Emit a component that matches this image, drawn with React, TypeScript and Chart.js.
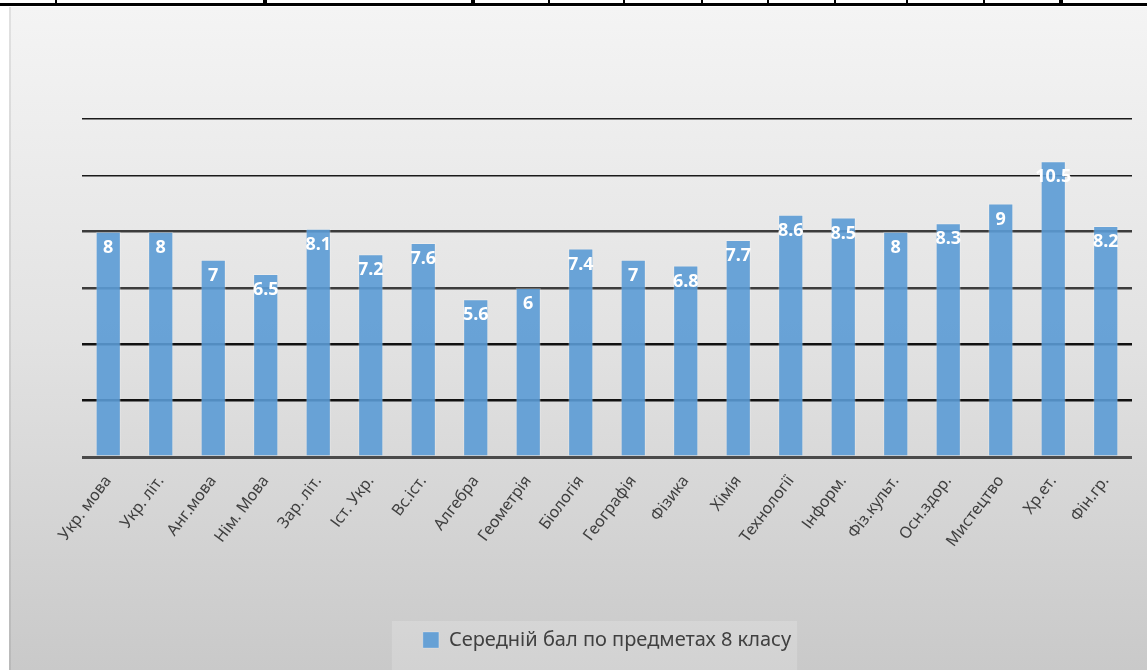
import React, { useEffect, useRef } from "react";
import { Chart, registerables } from "chart.js";

Chart.register(...registerables);

const categories: string[] = [
  "Укр. мова", "Укр. літ.", "Анг.мова", "Нім. Мова", "Зар. літ.", "Іст. Укр.", "Вс.іст.",
  "Алгебра", "Геометрія", "Біологія", "Географія", "Фізика", "Хімія", "Технології",
  "Інформ.", "Фіз.культ.", "Осн.здор.", "Мистецтво", "Хр.ет.", "Фін.гр.",
];
const averages: number[] = [8, 8, 7, 6.5, 8.1, 7.2, 7.6, 5.6, 6, 7.4, 7, 6.8, 7.7, 8.6, 8.5, 8, 8.3, 9, 10.5, 8.2];
const seriesName = "Середній бал по предметах 8 класу";
const yTicks: number[] = [0, 2, 4, 6, 8, 10, 12];

const W = 1147;
const H = 670;

const backgroundPlugin = {
  id: "bgDecor",
  beforeDraw(chart: any) {
    const ctx = chart.ctx;
    ctx.save();
    ctx.fillStyle = "#ffffff";
    ctx.fillRect(0, 0, W, H);
    const g = ctx.createLinearGradient(0, 7, 0, H);
    g.addColorStop(0, "#f4f4f4");
    g.addColorStop(0.5, "#e2e2e2");
    g.addColorStop(1, "#c9c9c9");
    ctx.fillStyle = g;
    ctx.fillRect(9, 7, W - 9, H - 7);
    ctx.fillStyle = "rgba(0,0,0,0.08)";
    ctx.fillRect(9, 7, 2, H - 7);
    // table border at the top
    ctx.fillStyle = "#000000";
    ctx.fillRect(0, 3, W, 3);
    const thin = [56, 549, 624, 702, 768, 835, 907, 984];
    const thick = [265, 473, 1061];
    thin.forEach((x) => ctx.fillRect(x - 1, 0, 2, 6));
    thick.forEach((x) => ctx.fillRect(x - 2, 0, 4, 6));
    // legend box
    const lg = chart.legend;
    if (lg && lg.legendHitBoxes && lg.legendHitBoxes.length) {
      const hb = lg.legendHitBoxes[0];
      const x0 = hb.left - 31;
      const x1 = hb.left + hb.width + 6;
      const y0 = hb.top - 9;
      ctx.fillStyle = "rgba(255,255,255,0.18)";
      ctx.fillRect(x0, y0, x1 - x0, H - y0);
    }
    ctx.restore();
  },
};

const valueLabelPlugin = {
  id: "valueLabels",
  afterDatasetsDraw(chart: any) {
    const ctx = chart.ctx;
    const meta = chart.getDatasetMeta(0);
    ctx.save();
    ctx.fillStyle = "#ffffff";
    ctx.font = "bold 18px 'Noto Sans', 'DejaVu Sans', sans-serif";
    ctx.textAlign = "center";
    ctx.textBaseline = "middle";
    meta.data.forEach((bar: any, i: number) => {
      const v = chart.data.datasets[0].data[i];
      ctx.fillText(String(v), bar.x, bar.y + 16);
    });
    ctx.restore();
  },
};

export default function App() {
  const ref = useRef<HTMLCanvasElement | null>(null);

  useEffect(() => {
    document.body.style.margin = "0";
    const canvas = ref.current;
    if (!canvas) return;
    const chart = new Chart(canvas, {
      type: "bar",
      data: {
        labels: categories,
        datasets: [
          {
            label: seriesName,
            data: averages,
            backgroundColor: "rgba(91,155,213,0.9)",
            borderColor: "rgba(255,255,255,0.25)",
            borderWidth: 1,
            categoryPercentage: 1,
            barPercentage: 0.48,
          },
        ],
      },
      options: {
        responsive: false,
        animation: false,
        layout: { padding: { left: 82, right: 15, top: 119, bottom: 10 } },
        scales: {
          x: {
            grid: { display: false },
            border: { display: false },
            ticks: {
              color: "#404040",
              font: { family: "'Noto Sans', 'DejaVu Sans', sans-serif", size: 16 },
              minRotation: 53,
              maxRotation: 53,
              autoSkip: false,
              padding: 7,
            },
            afterFit: (scale: any) => {
              scale.height = 165;
            },
          },
          y: {
            min: 0,
            max: 12,
            afterBuildTicks: (scale: any) => {
              scale.ticks = yTicks.map((v) => ({ value: v }));
            },
            ticks: { display: false },
            border: { display: false },
            grid: {
              drawTicks: false,
              color: (c: any) => {
                const v = c.tick ? c.tick.value : 0;
                if (v === 0) return "#4a4a4a";
                if (v >= 10) return "#1a1a1a";
                if (v >= 6) return "#3c3c3c";
                return "#111111";
              },
              lineWidth: (c: any) => {
                const v = c.tick ? c.tick.value : 0;
                if (v === 0) return 3;
                if (v >= 10) return 1.5;
                return 2.5;
              },
            },
          },
        },
        plugins: {
          legend: {
            position: "bottom",
            labels: {
              color: "#404040",
              font: { family: "'Noto Sans', 'DejaVu Sans', sans-serif", size: 20 },
              boxWidth: 16,
              boxHeight: 16,
              padding: 8,
            },
          },
          tooltip: { enabled: false },
        },
      },
      plugins: [backgroundPlugin, valueLabelPlugin],
    } as any);
    return () => chart.destroy();
  }, []);

  return (
    <div style={{ position: "absolute", left: 0, top: 0, width: W, height: H }}>
      <canvas ref={ref} width={W} height={H} style={{ width: W, height: H, display: "block" }} />
    </div>
  );
}
